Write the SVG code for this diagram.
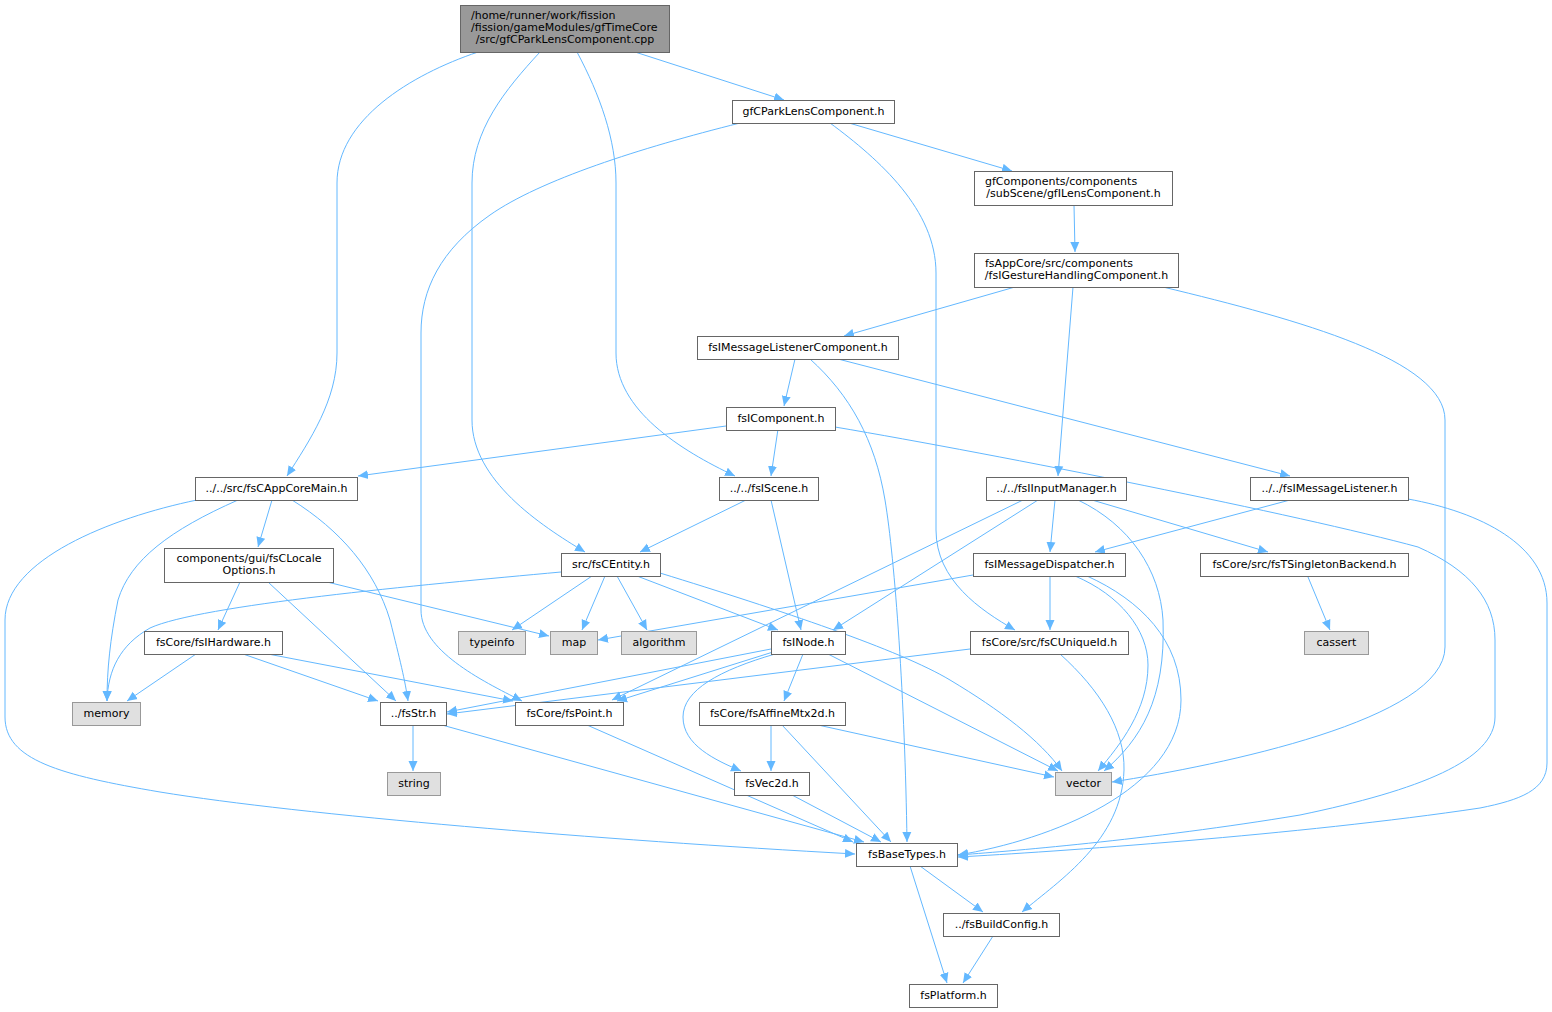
<svg xmlns="http://www.w3.org/2000/svg" width="1552" height="1012" viewBox="0 0 1552 1012">
<style>
text{font-family:"DejaVu Sans","Liberation Sans",sans-serif;font-size:11px;fill:#000}
.n rect{fill:#fff;stroke:#666;stroke-width:1}
.r rect{fill:#999;stroke:#666;stroke-width:1}
.x rect{fill:#e0e0e0;stroke:#999;stroke-width:1}
.m{text-anchor:middle}
.s{text-anchor:start}
#edges path{fill:none;stroke:#63b8ff;stroke-width:1;marker-end:url(#a)}
</style>
<defs>
<marker id="a" markerUnits="userSpaceOnUse" markerWidth="11" markerHeight="10" refX="10" refY="5" orient="auto">
<path d="M0,0.5 L10,5 L0,9.5 z" fill="#63b8ff"/>
</marker>
</defs>
<rect width="1552" height="1012" fill="#fff"/>
<g id="edges">
<path d="M635,52 L784,100"/>
<path d="M478,52 C410,75 337,120 337,183 L337,353 C337,400 310,440 287,476"/>
<path d="M540,52 C505,90 472,130 472,183 L472,420 C472,480 540,525 585,552"/>
<path d="M577,52 C600,95 616,140 616,183 L616,353 C616,410 680,450 735,476"/>
<path d="M849,123 L1012,171"/>
<path d="M740,123 C640,148 540,180 490,215 C440,250 421,290 421,333 L421,610 C421,650 480,680 522,701"/>
<path d="M830,123 C880,160 936,210 936,273 L936,530 C936,580 980,610 1015,630"/>
<path d="M1074,205 L1075,252"/>
<path d="M1015,287 L844,336"/>
<path d="M1073,287 L1058,476"/>
<path d="M1163,287 C1300,320 1445,360 1445,420 L1445,647 C1445,720 1220,765 1112,782"/>
<path d="M795,359 L784,406"/>
<path d="M810,359 C850,395 875,440 885,500 C895,560 905,700 907,842"/>
<path d="M838,359 L1290,476"/>
<path d="M726,426 L358,476"/>
<path d="M778,429 L771,476"/>
<path d="M835,427 C1000,455 1300,515 1418,547 C1470,570 1495,600 1495,640 L1495,717 C1495,760 1420,790 1300,815 C1150,840 1000,852 958,855"/>
<path d="M746,500 L640,552"/>
<path d="M771,500 L801,630"/>
<path d="M1023,500 L612,700"/>
<path d="M1038,500 L833,630"/>
<path d="M1055,500 L1050,552"/>
<path d="M1078,500 C1130,525 1160,570 1163,620 C1166,700 1140,740 1104,771"/>
<path d="M1092,500 L1268,552"/>
<path d="M1290,500 L1095,552"/>
<path d="M1408,499 C1480,512 1547,545 1547,603 L1547,763 C1547,790 1520,800 1480,808 C1300,835 1050,852 958,857"/>
<path d="M272,500 L258,547"/>
<path d="M292,500 C340,530 375,570 390,620 C400,660 405,680 408,701"/>
<path d="M238,500 C170,530 130,560 118,600 C110,640 107,670 107,701"/>
<path d="M197,500 C110,518 5,560 5,620 L5,717 C5,760 60,775 160,792 C300,815 600,840 855,854"/>
<path d="M240,582 L218,630"/>
<path d="M268,582 L396,701"/>
<path d="M327,582 L549,636"/>
<path d="M561,572 C420,585 200,605 150,628 C120,645 108,670 107,701"/>
<path d="M592,576 L512,630"/>
<path d="M605,576 L582,630"/>
<path d="M617,576 L647,630"/>
<path d="M637,576 L778,630"/>
<path d="M660,573 C780,610 900,650 950,680 C1000,710 1040,740 1062,771"/>
<path d="M973,575 L598,640"/>
<path d="M1050,576 L1050,630"/>
<path d="M1075,576 C1120,595 1148,630 1148,665 C1148,710 1120,745 1098,771"/>
<path d="M1087,576 C1140,600 1181,640 1181,700 C1181,790 1050,840 958,855"/>
<path d="M1308,577 L1330,630"/>
<path d="M196,654 L127,701"/>
<path d="M243,654 L378,701"/>
<path d="M268,654 L513,701"/>
<path d="M771,649 L447,712"/>
<path d="M773,652 L617,701"/>
<path d="M803,654 L784,701"/>
<path d="M775,654 C720,670 683,690 683,717 C683,745 715,760 741,771"/>
<path d="M828,654 L1058,771"/>
<path d="M970,649 L447,714"/>
<path d="M1060,654 C1100,690 1125,730 1124,770 C1122,840 1060,880 1022,912"/>
<path d="M771,725 L771,771"/>
<path d="M782,725 L891,842"/>
<path d="M818,725 L1054,777"/>
<path d="M792,795 L881,842"/>
<path d="M413,725 L413,771"/>
<path d="M442,725 L864,842"/>
<path d="M587,725 L853,842"/>
<path d="M920,866 L983,912"/>
<path d="M910,866 L947,983"/>
<path d="M993,936 L963,983"/>
</g>
<g id="n0" class="r"><rect x="460.5" y="5.5" width="209" height="47"/><text class="s" x="471" y="19">/home/runner/work/fission</text><text class="s" x="471" y="31">/fission/gameModules/gfTimeCore</text><text class="m" x="565" y="43">/src/gfCParkLensComponent.cpp</text></g>
<g id="n1" class="n"><rect x="732.5" y="100.5" width="162" height="23"/><text class="m" x="813.5" y="115">gfCParkLensComponent.h</text></g>
<g id="n2" class="n"><rect x="974.5" y="171.5" width="198" height="34"/><text class="s" x="985" y="185">gfComponents/components</text><text class="m" x="1073.5" y="197">/subScene/gfILensComponent.h</text></g>
<g id="n3" class="n"><rect x="974.5" y="253.5" width="204" height="34"/><text class="s" x="985" y="267">fsAppCore/src/components</text><text class="m" x="1076.5" y="279">/fsIGestureHandlingComponent.h</text></g>
<g id="n4" class="n"><rect x="697.5" y="336.5" width="201" height="23"/><text class="m" x="798" y="351">fsIMessageListenerComponent.h</text></g>
<g id="n5" class="n"><rect x="726.5" y="407.5" width="109" height="23"/><text class="m" x="781" y="422">fsIComponent.h</text></g>
<g id="n6" class="n"><rect x="719.5" y="477.5" width="99" height="23"/><text class="m" x="769" y="492">../../fsIScene.h</text></g>
<g id="n7" class="n"><rect x="986.5" y="477.5" width="140" height="23"/><text class="m" x="1056.5" y="492">../../fsIInputManager.h</text></g>
<g id="n8" class="n"><rect x="1250.5" y="477.5" width="158" height="23"/><text class="m" x="1329.5" y="492">../../fsIMessageListener.h</text></g>
<g id="n9" class="n"><rect x="195.5" y="477.5" width="162" height="23"/><text class="m" x="276.5" y="492">../../src/fsCAppCoreMain.h</text></g>
<g id="n10" class="n"><rect x="164.5" y="548.5" width="169" height="34"/><text class="m" x="249" y="562">components/gui/fsCLocale</text><text class="m" x="249" y="574">Options.h</text></g>
<g id="n11" class="n"><rect x="561.5" y="553.5" width="99" height="23"/><text class="m" x="611" y="568">src/fsCEntity.h</text></g>
<g id="n12" class="n"><rect x="973.5" y="553.5" width="152" height="23"/><text class="m" x="1049.5" y="568">fsIMessageDispatcher.h</text></g>
<g id="n13" class="n"><rect x="1200.5" y="553.5" width="208" height="23"/><text class="m" x="1304.5" y="568">fsCore/src/fsTSingletonBackend.h</text></g>
<g id="n14" class="x"><rect x="458.5" y="631.5" width="67" height="23"/><text class="m" x="492" y="646">typeinfo</text></g>
<g id="n15" class="x"><rect x="550.5" y="631.5" width="47" height="23"/><text class="m" x="574" y="646">map</text></g>
<g id="n16" class="x"><rect x="621.5" y="631.5" width="75" height="23"/><text class="m" x="659" y="646">algorithm</text></g>
<g id="n17" class="n"><rect x="771.5" y="631.5" width="74" height="23"/><text class="m" x="808.5" y="646">fsINode.h</text></g>
<g id="n18" class="n"><rect x="970.5" y="631.5" width="158" height="23"/><text class="m" x="1049.5" y="646">fsCore/src/fsCUniqueId.h</text></g>
<g id="n19" class="x"><rect x="1304.5" y="631.5" width="64" height="23"/><text class="m" x="1336.5" y="646">cassert</text></g>
<g id="n20" class="n"><rect x="144.5" y="631.5" width="138" height="23"/><text class="m" x="213.5" y="646">fsCore/fsIHardware.h</text></g>
<g id="n21" class="x"><rect x="72.5" y="702.5" width="68" height="23"/><text class="m" x="106.5" y="717">memory</text></g>
<g id="n22" class="n"><rect x="380.5" y="702.5" width="66" height="23"/><text class="m" x="413.5" y="717">../fsStr.h</text></g>
<g id="n23" class="n"><rect x="515.5" y="702.5" width="108" height="23"/><text class="m" x="569.5" y="717">fsCore/fsPoint.h</text></g>
<g id="n24" class="n"><rect x="699.5" y="702.5" width="146" height="23"/><text class="m" x="772.5" y="717">fsCore/fsAffineMtx2d.h</text></g>
<g id="n25" class="x"><rect x="1055.5" y="772.5" width="56" height="23"/><text class="m" x="1083.5" y="787">vector</text></g>
<g id="n26" class="x"><rect x="387.5" y="772.5" width="53" height="23"/><text class="m" x="414" y="787">string</text></g>
<g id="n27" class="n"><rect x="734.5" y="772.5" width="75" height="23"/><text class="m" x="772" y="787">fsVec2d.h</text></g>
<g id="n28" class="n"><rect x="856.5" y="843.5" width="101" height="23"/><text class="m" x="907" y="858">fsBaseTypes.h</text></g>
<g id="n29" class="n"><rect x="943.5" y="913.5" width="116" height="23"/><text class="m" x="1001.5" y="928">../fsBuildConfig.h</text></g>
<g id="n30" class="n"><rect x="909.5" y="984.5" width="88" height="23"/><text class="m" x="953.5" y="999">fsPlatform.h</text></g>
</svg>
